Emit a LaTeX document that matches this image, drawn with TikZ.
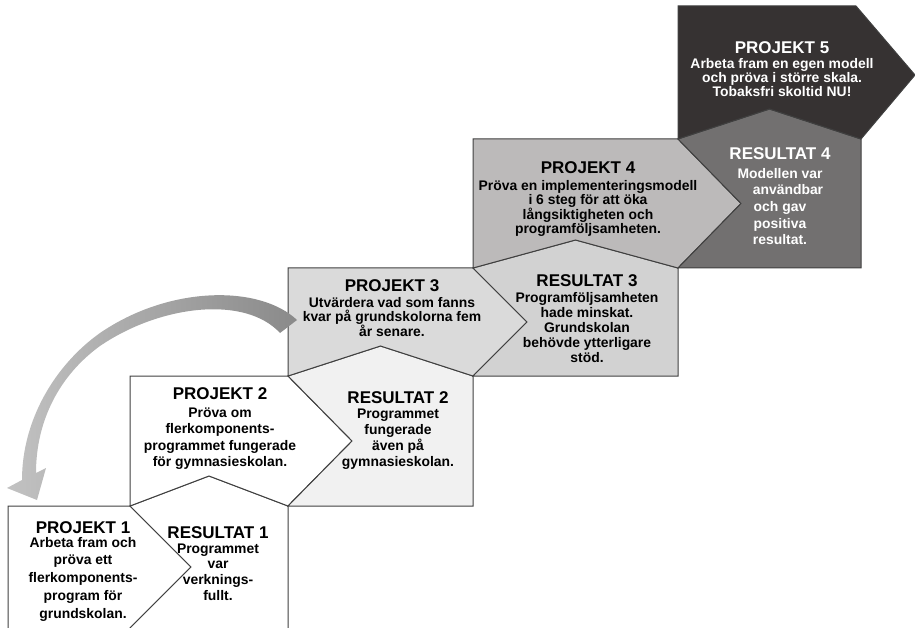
\documentclass[tikz,border=0pt]{standalone}
\usepackage{fontspec}
\setmainfont{Liberation Sans}
\definecolor{edge}{HTML}{404040}
\definecolor{res2}{HTML}{F1F1F1}
\definecolor{proj3}{HTML}{DADADA}
\definecolor{res3}{HTML}{D2D2D2}
\definecolor{proj4}{HTML}{BCBABA}
\definecolor{res4}{HTML}{727070}
\definecolor{proj5}{HTML}{363232}
\definecolor{arrowdark}{HTML}{8A8A8A}
\definecolor{arrowlight}{HTML}{C2C2C2}
\tikzset{
  box/.style={draw=edge, line width=1pt, line join=miter},
  boxtext/.style={align=center, inner sep=0pt, anchor=north,
    font=\bfseries\fontsize{13.9}{#1}\selectfont},
}
\newcommand{\boxtitle}[1]{{\fontsize{17}{17}\selectfont #1}}

\begin{document}
\begin{tikzpicture}[x=1pt, y=-1pt]
    \useasboundingbox (0,0) rectangle (915,628);
    \clip (0,0) rectangle (915,628);

    % corners of the staircase
    \coordinate (A1) at (8,506);
    \coordinate (B1) at (130,506);
    \coordinate (A2) at (130,376);
    \coordinate (B2) at (288,376);
    \coordinate (A3) at (288,268);
    \coordinate (B3) at (473,268);
    \coordinate (A4) at (473,139);
    \coordinate (B4) at (678,139);
    \coordinate (A5) at (678,6);
    \coordinate (B5) at (856,6);
    % tips of the project arrows
    \coordinate (T1) at (191,567);
    \coordinate (T2) at (352,441);
    \coordinate (T3) at (527,322);
    \coordinate (T4) at (741,203.5);
    \coordinate (T5) at (915,75);
    % lower right corners of the project arrows
    \coordinate (C1) at (130,628);
    \coordinate (C2) at (288,506);
    \coordinate (C3) at (473,376);
    \coordinate (C4) at (678,268);
    \coordinate (C5) at (861,139);
    % lower right corners of the results
    \coordinate (D1) at (288,640);
    \coordinate (D2) at (473,506);
    \coordinate (D3) at (678,376);
    \coordinate (D4) at (861,268);
    % roof tops of the results
    \coordinate (R1) at (209,476);
    \coordinate (R2) at (380.5,346);
    \coordinate (R3) at (575.5,240);
    \coordinate (R4) at (769.5,109);
    \coordinate (E1) at (8,640);
    \coordinate (F1) at (130,640);

    % draw figure
    \begin{scope}
    \draw [box, fill=white] (E1) -- (A1) -- (B1) -- (T1) -- (C1) -- (F1) -- cycle;
    \draw [box, fill=white] (B1) -- (R1) -- (C2) -- (D1) -- (F1) -- (C1) -- (T1) -- cycle;
    \draw [box, fill=white] (B1) -- (A2) -- (B2) -- (T2) -- (C2) -- (R1) -- cycle;
    \draw [box, fill=res2] (C2) -- (T2) -- (B2) -- (R2) -- (C3) -- (D2) -- cycle;
    \draw [box, fill=proj3] (B2) -- (A3) -- (B3) -- (T3) -- (C3) -- (R2) -- cycle;
    \draw [box, fill=res3] (C3) -- (T3) -- (B3) -- (R3) -- (C4) -- (D3) -- cycle;
    \draw [box, fill=proj4] (B3) -- (A4) -- (B4) -- (T4) -- (C4) -- (R3) -- cycle;
    \draw [box, fill=res4] (C4) -- (T4) -- (B4) -- (R4) -- (C5) -- (D4) -- cycle;
    \draw [box, fill=proj5] (B4) -- (A5) -- (B5) -- (T5) -- (C5) -- (R4) -- cycle;
    \end{scope}

    % curved arrow back to the first project
    \shade [left color=arrowlight, right color=arrowdark]
      (297,320) .. controls (260,285) and (170,285) .. (100,333)
      .. controls (55,365) and (22,420) .. (22,480)
      -- (7,488) -- (37,500) -- (46,468) -- (36,473)
      .. controls (36,420) and (60,375) .. (100,346)
      .. controls (160,305) and (245,295) .. (280,333) -- cycle;

    % add labels
    \node [boxtext=17.8] (p1) at (83,521) {\boxtitle{PROJEKT 1}\\[-3.8pt]
      Arbeta fram och\\ pröva ett\\ flerkomponents-\\ program för\\ grundskolan.};
    \node [boxtext=15.7] (r1) at (218,526) {\boxtitle{RESULTAT 1}\\[-0.7pt]
      Programmet\\ var\\ verknings-\\ fullt.};
    \node [boxtext=16.5] (p2) at (220,387) {\boxtitle{PROJEKT 2}\\[1.5pt]
      Pröva om\\ flerkomponents-\\ programmet fungerade\\ för gymnasieskolan.};
    \node [boxtext=16] (r2) at (398,391) {\boxtitle{RESULTAT 2}\\[-1pt]
      Programmet\\ fungerade\\ även på\\ gymnasieskolan.};
    \node [boxtext=14.5] (p3) at (392,279) {\boxtitle{PROJEKT 3}\\[1.5pt]
      Utvärdera vad som fanns\\ kvar på grundskolorna fem\\ år senare.};
    \node [boxtext=15] (r3) at (587,274) {\boxtitle{RESULTAT 3}\\[1pt]
      Programföljsamheten\\ hade minskat.\\ Grundskolan\\ behövde ytterligare\\ stöd.};
    \node [boxtext=14] (p4) at (588,161) {\boxtitle{PROJEKT 4}\\[3pt]
      Pröva en implementeringsmodell\\ i 6 steg för att öka\\ långsiktigheten och\\ programföljsamheten.};
    \node [boxtext=16.7, text=white] (r4) at (780,147) {\boxtitle{RESULTAT 4}\\[2.3pt]
      Modellen var\\ \hspace*{16pt}användbar\\ och gav\hspace*{16pt}\\ positiva\\ resultat.};
    \node [boxtext=13.9, text=white] (p5) at (782,41) {\boxtitle{PROJEKT 5}\\[1.5pt]
      Arbeta fram en egen modell\\ och pröva i större skala.\\ Tobaksfri skoltid NU!};
\end{tikzpicture}
\end{document}
